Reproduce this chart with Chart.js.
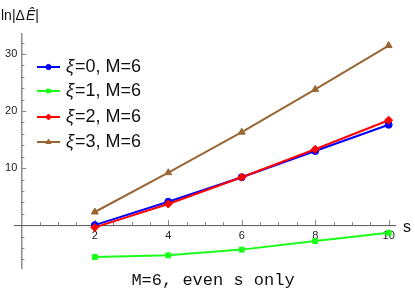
<!DOCTYPE html>
<html>
<head>
<meta charset="utf-8">
<script src="https://cdn.jsdelivr.net/npm/chart.js@4.4.1/dist/chart.umd.min.js"></script>
<style>
  html, body { margin: 0; padding: 0; background: #fff; }
  #wrap { width: 415px; height: 291px; }
</style>
</head>
<body>
<div id="wrap"><canvas id="chart" width="415" height="291"></canvas></div>
<script>
'use strict';

// ── Data ──────────────────────────────────────────────────────────────────────
const sValues = [2, 4, 6, 8, 10];
const xi0 = [0.0, 4.1, 8.4, 13.0, 17.6];
const xi1 = [-5.6, -5.3, -4.3, -2.8, -1.35];
const xi2 = [-0.4, 3.7, 8.4, 13.3, 18.4];
const xi3 = [2.3, 9.2, 16.3, 23.8, 31.5];

const seriesNames = ['0', '1', '2', '3'];
const xTickLabels = [2, 4, 6, 8, 10];
const yTickLabels = [10, 20, 30];

const AXIS_COLOR = '#555';
const SANS = "'Liberation Sans', Arial, sans-serif";

function pts(ys) {
  return sValues.map((s, i) => ({ x: s, y: ys[i] }));
}

// ── Axes through origin, drawn from the chart's scales ───────────────────────
const axesPlugin = {
  id: 'originAxes',
  beforeDatasetsDraw(chart) {
    const { ctx, scales: { x, y } } = chart;
    const x0 = x.getPixelForValue(0);
    const y0 = y.getPixelForValue(0);
    ctx.save();
    ctx.strokeStyle = AXIS_COLOR;
    ctx.lineWidth = 1;
    ctx.beginPath();
    ctx.moveTo(x.left, y0 + 0.5);
    ctx.lineTo(x.right, y0 + 0.5);
    ctx.moveTo(x0 + 0.5, y.top);
    ctx.lineTo(x0 + 0.5, y.bottom);
    ctx.stroke();

    // x ticks every 0.5, major at even integers
    ctx.strokeStyle = '#888';
    ctx.beginPath();
    for (let v = 0.5; v <= x.max; v += 0.5) {
      const px = Math.round(x.getPixelForValue(v)) + 0.5;
      const len = (v % 2 === 0) ? 5 : 3;
      ctx.moveTo(px, y0);
      ctx.lineTo(px, y0 - len);
    }
    // y ticks every 2, major every 10
    for (let v = Math.ceil(y.min / 2) * 2; v <= y.max; v += 2) {
      if (v === 0) continue;
      const py = Math.round(y.getPixelForValue(v)) + 0.5;
      const len = (v % 10 === 0) ? 5 : 3;
      ctx.moveTo(x0, py);
      ctx.lineTo(x0 + len, py);
    }
    ctx.stroke();

    // tick labels
    ctx.fillStyle = '#222';
    ctx.font = '11px ' + SANS;
    ctx.textAlign = 'center';
    ctx.textBaseline = 'middle';
    xTickLabels.forEach(v => ctx.fillText(String(v), x.getPixelForValue(v), y0 + 11));
    ctx.textAlign = 'right';
    yTickLabels.forEach(v => ctx.fillText(String(v), x0 - 4, y.getPixelForValue(v)));
    ctx.restore();
  },
  afterDraw(chart) {
    const { ctx, scales: { x, y } } = chart;
    ctx.save();
    ctx.fillStyle = '#111';
    ctx.textBaseline = 'alphabetic';
    ctx.textAlign = 'left';

    // y axis title: ln|ΔÊ|
    let cx = 1;
    const ty = 20;
    ['ln|Δ', 'Ê', '|'].forEach((part, i) => {
      ctx.font = (i === 1 ? 'italic ' : '') + '14px ' + SANS;
      ctx.fillText(part, cx, ty);
      cx += ctx.measureText(part).width + (i === 0 ? 1 : 0);
    });

    // x axis title
    ctx.font = '16px ' + SANS;
    ctx.textBaseline = 'middle';
    ctx.fillText('s', 403, y.getPixelForValue(0) + 2);

    // caption
    ctx.font = '17px "Liberation Mono", "Courier New", monospace';
    ctx.textAlign = 'center';
    ctx.textBaseline = 'alphabetic';
    ctx.fillText('M=6, even s only', 213, 285);

    // legend
    const rowsY = [67, 91, 117, 142];
    chart.data.datasets.forEach((ds, i) => {
      const yy = rowsY[i];
      ctx.strokeStyle = ds.borderColor;
      ctx.lineWidth = 2;
      ctx.beginPath();
      ctx.moveTo(37, yy);
      ctx.lineTo(60, yy);
      ctx.stroke();
      ctx.fillStyle = ds.borderColor;
      ctx.lineWidth = 1;
      Chart.helpers.drawPoint(ctx, {
        pointStyle: ds.pointStyle, radius: ds.pointRadius * 0.75, rotation: 0, borderWidth: 1
      }, 48.5, yy);

      ctx.fillStyle = '#111';
      ctx.textAlign = 'left';
      ctx.textBaseline = 'middle';
      ctx.font = 'italic 18px ' + SANS;
      ctx.fillText('ξ', 66, yy);
      const w = ctx.measureText('ξ').width;
      ctx.font = '18px ' + SANS;
      ctx.fillText('=' + seriesNames[i] + ', M=6', 66 + w + 1, yy);
    });
    ctx.restore();
  }
};

// ── Chart ─────────────────────────────────────────────────────────────────────
const commonDs = { borderWidth: 2, pointBorderWidth: 1, tension: 0, fill: false };

new Chart(document.getElementById('chart'), {
  type: 'line',
  data: {
    datasets: [
      { ...commonDs, label: 'ξ=0, M=6', data: pts(xi0), borderColor: '#0000ff', backgroundColor: '#0000ff', pointStyle: 'circle', pointRadius: 3.5, order: 1 },
      { ...commonDs, label: 'ξ=1, M=6', data: pts(xi1), borderColor: '#19ff19', backgroundColor: '#19ff19', pointStyle: 'rect', pointRadius: 3.5, order: 2 },
      { ...commonDs, label: 'ξ=2, M=6', data: pts(xi2), borderColor: '#ff0000', backgroundColor: '#ff0000', pointStyle: 'rectRot', pointRadius: 4, order: 0 },
      { ...commonDs, label: 'ξ=3, M=6', data: pts(xi3), borderColor: '#996633', backgroundColor: '#996633', pointStyle: 'triangle', pointRadius: 4, order: 3 }
    ]
  },
  options: {
    responsive: false,
    animation: false,
    layout: { padding: { left: 14, right: 19, top: 33, bottom: 22 } },
    scales: {
      x: { type: 'linear', min: -0.2, max: 10.2, display: false },
      y: { type: 'linear', min: -7.7, max: 33.7, display: false }
    },
    plugins: { legend: { display: false }, tooltip: { enabled: false } }
  },
  plugins: [axesPlugin]
});
</script>
</body>
</html>
